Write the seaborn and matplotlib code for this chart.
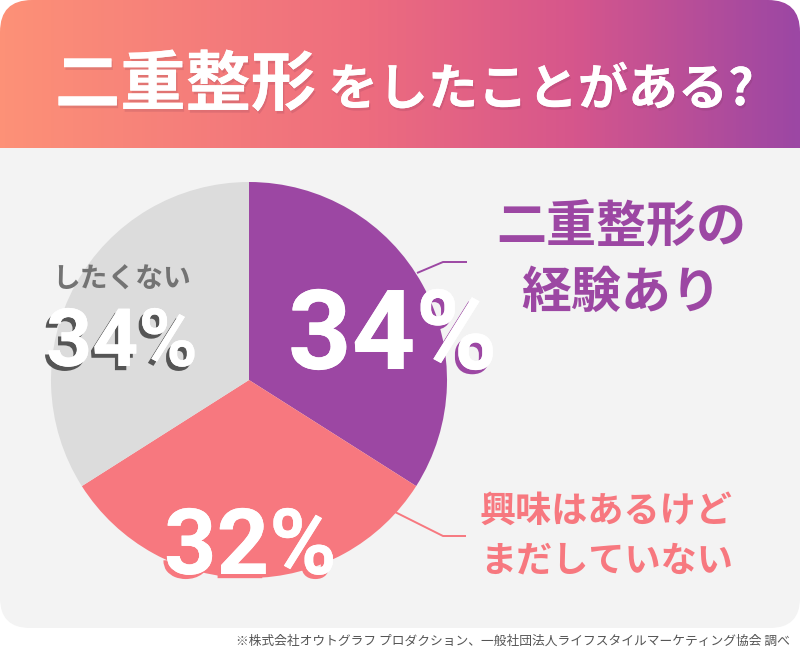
import matplotlib
matplotlib.use('Agg')
import numpy as np
import matplotlib.pyplot as plt
import matplotlib.patheffects as pe
from matplotlib.patches import FancyBboxPatch
from matplotlib.colors import LinearSegmentedColormap
import seaborn as sns

# data
shares = [34, 32, 34]
share_labels = ['34%', '32%', '34%']
cat_lines = [['二重整形の', '経験あり'], ['興味はあるけど', 'まだしていない'], ['したくない']]
title_main = '二重整形'
title_sub = 'をしたことがある?'
source = '※株式会社オウトグラフ プロダクション、一般社団法人ライフスタイルマーケティング協会 調べ'

pie_colors = sns.color_palette(['#9c47a3', '#f7787f', '#dcdcdc'])
head_colors = ['#fd9177', '#ee6d7e', '#d6568c', '#9c47a4']

sns.set_theme(style='white')
plt.rcParams['font.family'] = ['Noto Sans CJK JP', 'DejaVu Sans']
num_font = ['Roboto', 'DejaVu Sans']

W, H = 800, 654
fig = plt.figure(figsize=(8, 6.54), dpi=100)

# background card
bg = fig.add_axes([0, 0, 1, 1], zorder=0)
bg.axis('off')
body = FancyBboxPatch((0, 100), W, 528, boxstyle='round,pad=0,rounding_size=30',
                      fc='#f3f3f3', ec='none', zorder=0)
bg.add_patch(body)
head_clip = FancyBboxPatch((0, 0), W, 220, boxstyle='round,pad=0,rounding_size=32',
                           fc='none', ec='none')
bg.add_patch(head_clip)
cmap = LinearSegmentedColormap.from_list('head', list(zip([0, 0.45, 0.72, 1], head_colors)))
img = bg.imshow(np.linspace(0, 1, 256)[None, :], cmap=cmap, extent=(0, W, 148, 0),
                aspect='auto', interpolation='bilinear', zorder=2)
img.set_clip_path(head_clip)
bg.set_xlim(0, W)
bg.set_ylim(H, 0)

# pie
cx, cy, r = 249, 380, 198
pax = fig.add_axes([(cx - r) / W, (H - cy - r) / H, 2 * r / W, 2 * r / H], zorder=1)
pax.pie(shares, colors=pie_colors, startangle=90, counterclock=False,
        wedgeprops=dict(linewidth=0))
pax.set_xlim(-1, 1)
pax.set_ylim(-1, 1)
pax.set_aspect('equal')

# text overlay
top = fig.add_axes([0, 0, 1, 1], zorder=2)
top.axis('off')
top.patch.set_visible(False)
top.set_xlim(0, W)
top.set_ylim(H, 0)

shadow = [pe.withSimplePatchShadow(offset=(1, -2), shadow_rgbFace='#6a2a4a', alpha=0.15),
          pe.Normal()]
top.text(55, 105, title_main, fontsize=47, fontweight='bold', color='white',
         va='baseline', ha='left', path_effects=shadow)
top.text(328, 105, title_sub, fontsize=36, fontweight='bold', color='white',
         va='baseline', ha='left', path_effects=shadow)

def big_number(x, y, s, size, shade):
    top.text(x, y, s, fontsize=size, fontweight='bold', color='white', family=num_font,
             va='baseline', ha='left',
             path_effects=[pe.withSimplePatchShadow(offset=(-2.5, -3), shadow_rgbFace=shade, alpha=1.0),
                           pe.Normal()])

big_number(288, 369, share_labels[0], 80, pie_colors[0])
big_number(164, 574, share_labels[1], 66, pie_colors[1])
big_number(46, 366, share_labels[2], 58, '#555555')

# category labels
top.text(621, 228, cat_lines[0][0], fontsize=36, fontweight='bold', color=pie_colors[0],
         ha='center', va='center')
top.text(621, 293, cat_lines[0][1], fontsize=36, fontweight='bold', color=pie_colors[0],
         ha='center', va='center')
top.text(480, 511, cat_lines[1][0], fontsize=26, fontweight='bold', color=pie_colors[1],
         ha='left', va='center')
top.text(480, 561, cat_lines[1][1], fontsize=26, fontweight='bold', color=pie_colors[1],
         ha='left', va='center')
top.text(122, 280, cat_lines[2][0], fontsize=20, fontweight='bold', color='#737373',
         ha='center', va='center')

# leader lines
top.plot([417, 443, 467], [273, 262, 262], color=pie_colors[0], lw=1.4, solid_capstyle='butt')
top.plot([395, 443, 466], [512, 536, 536], color=pie_colors[1], lw=1.4, solid_capstyle='butt')

top.text(790, 641, source, fontsize=9.2, color='#555555', ha='right', va='center')

fig.savefig('out.png', dpi=100)
